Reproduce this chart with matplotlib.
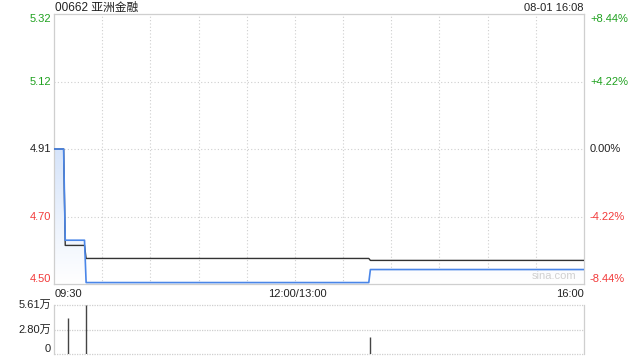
import matplotlib
matplotlib.use('Agg')
import matplotlib.pyplot as plt
import matplotlib.transforms as mtransforms
import numpy as np

plt.rcParams['font.family'] = ['Liberation Sans', 'Noto Sans CJK SC', 'DejaVu Sans']

title = '00662 亚洲金融'
stamp = '08-01 16:08'
prev_close = 4.91
pct_range = 0.0844

# price line (blue) and average line (black), as time / value points
price_times = ['09:30', '09:36', '09:37', '09:49', '09:50', '13:46', '13:47', '16:00']
price_vals = [4.91, 4.91, 4.63, 4.63, 4.50, 4.50, 4.54, 4.54]
avg_times = ['09:30', '09:36', '09:37', '09:49', '09:50', '13:46', '13:47', '16:00']
avg_vals = [4.91, 4.91, 4.614, 4.614, 4.574, 4.574, 4.568, 4.568]

vol_times = ['09:39', '09:50', '13:47']
vol_vals = [41000, 56100, 20000]
vol_max = 56100

left_labels = ['5.32', '5.12', '4.91', '4.70', '4.50']
right_labels = ['+8.44%', '+4.22%', '0.00%', '-4.22%', '-8.44%']
x_labels = ['09:30', '12:00/13:00', '16:00']
vol_labels = ['5.61万', '2.80万', '0']

GREEN = '#1fa11f'
RED = '#f23a3a'
BLUE = '#4a86e8'
GRID = '#cfcfcf'


def to_min(t):
    h, m = map(int, t.split(':'))
    v = h * 60 + m - (9 * 60 + 30)
    if v > 150:
        v -= 60  # lunch break collapsed
    return v


px = [to_min(t) for t in price_times]
ax_ = [to_min(t) for t in avg_times]
vx = [to_min(t) for t in vol_times]

ymax = prev_close * (1 + pct_range)
ymin = prev_close * (1 - pct_range)
levels = [ymax, prev_close * (1 + pct_range / 2), prev_close,
          prev_close * (1 - pct_range / 2), ymin]

fig = plt.figure(figsize=(6.4, 3.6), dpi=100)
W, H = 640, 360
ax = fig.add_axes([54 / W, (H - 284) / H, 530 / W, 270 / H])
axv = fig.add_axes([54 / W, (H - 354) / H, 530 / W, 49 / H])

# main chart
ax.set_xlim(0, 330)
ax.set_ylim(ymin, ymax)
for x in range(30, 330, 30):
    ax.axvline(x, color=GRID, lw=0.8, ls=(0, (1, 2)), zorder=0)
for y in levels[1:4]:
    ax.axhline(y, color=GRID, lw=0.8, ls=(0, (1, 2)), zorder=0)
for s in ax.spines.values():
    s.set_color(GRID)
    s.set_linewidth(0.9)
ax.set_xticks([])
ax.set_yticks([])

# gradient fill under price line
grad = np.linspace(1, 0, 256).reshape(-1, 1)
cmap = matplotlib.colors.LinearSegmentedColormap.from_list('g', ['#ffffff', '#d6e4fa'])
poly = ax.fill_between(px, price_vals, ymin, color='none', lw=0)
img = ax.imshow(grad, extent=[0, 330, ymin, prev_close], aspect='auto',
                cmap=cmap, origin='upper', zorder=1)
img.set_clip_path(poly.get_paths()[0], transform=ax.transData)
ax.set_ylim(ymin, ymax)

ax.plot(ax_, avg_vals, color='#333333', lw=1.0, zorder=3)
ax.plot(px, price_vals, color=BLUE, lw=1.2, zorder=4)

ax.text(0.985, 0.012, 'sina.com', transform=ax.transAxes, ha='right', va='bottom',
        fontsize=8, color='#d0d0d0')

trans_l = mtransforms.blended_transform_factory(fig.transFigure, ax.transData)
colors = [GREEN, GREEN, '#222222', RED, RED]
vas = ['top', 'center', 'center', 'center', 'bottom']
for lab, rlab, y, c, va in zip(left_labels, right_labels, levels, colors, vas):
    ax.text(51 / W, y, lab, transform=trans_l, ha='right', va=va, fontsize=8, color=c)
    ax.text(590 / W, y, rlab, transform=trans_l, ha='left', va=va, fontsize=8, color=c)

fig.text(55 / W, 1 - 8 / H, title, ha='left', va='center', fontsize=8.5, color='#222222')
fig.text(584 / W, 1 - 8 / H, stamp, ha='right', va='center', fontsize=8, color='#222222')

fig.text(55 / W, 1 - 294 / H, x_labels[0], ha='left', va='center', fontsize=8, color='#222222')
fig.text(297 / W, 1 - 294 / H, x_labels[1], ha='center', va='center', fontsize=8, color='#222222')
fig.text(584 / W, 1 - 294 / H, x_labels[2], ha='right', va='center', fontsize=8, color='#222222')

# volume chart
axv.set_xlim(0, 330)
axv.set_ylim(0, vol_max)
axv.vlines(vx, 0, vol_vals, color='#444444', lw=1.0)
for y in [vol_max, vol_max / 2, 0]:
    axv.axhline(y, color=GRID, lw=0.9, ls=(0, (1, 1)), zorder=0, clip_on=False)
for k in ['top', 'bottom']:
    axv.spines[k].set_visible(False)
for k in ['left', 'right']:
    axv.spines[k].set_color(GRID)
    axv.spines[k].set_linewidth(0.9)
axv.set_xticks([])
axv.set_yticks([])
trans_v = mtransforms.blended_transform_factory(fig.transFigure, axv.transData)
for lab, y, va in zip(vol_labels, [vol_max, vol_max / 2, 0], ['center', 'center', 'bottom']):
    axv.text(51 / W, y, lab, transform=trans_v, ha='right', va=va, fontsize=8, color='#222222')

fig.savefig('out.png', dpi=100)
